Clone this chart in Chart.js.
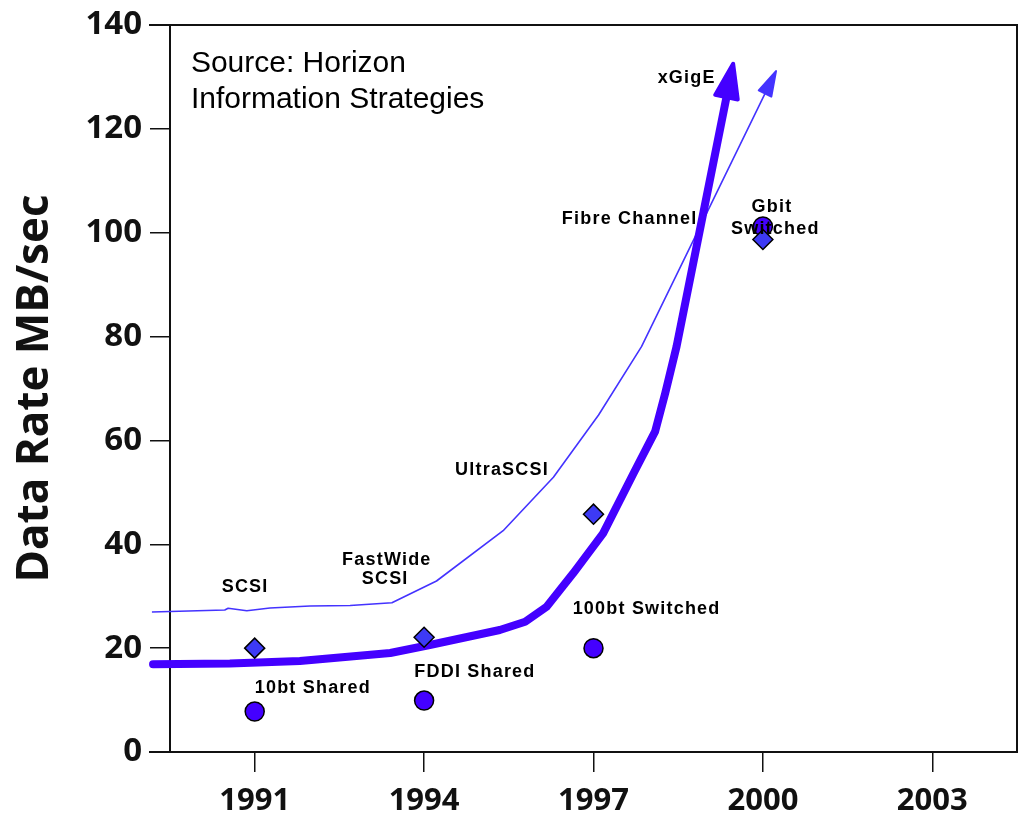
<!DOCTYPE html>
<html>
<head>
<meta charset="utf-8">
<script src="https://cdn.jsdelivr.net/npm/chart.js@4/dist/chart.umd.min.js"></script>
<style>
  html, body { margin: 0; padding: 0; background: #fff; overflow: hidden; }
  #wrap { width: 1019px; height: 814px; position: relative; }
  #wrap canvas { display: block; }
</style>
</head>
<body>
<div id="wrap"><canvas id="c"></canvas></div>
<script>
// Axis ticks
const yearTicks = [1991, 1994, 1997, 2000, 2003];
const rateTicks = [0, 20, 40, 60, 80, 100, 120, 140];

// Storage interface trend (thin arrow)
const storageYears = [1989.18, 1990.47, 1990.53, 1990.86, 1991.27, 1991.98, 1992.69, 1993.43, 1994.22, 1995.40, 1996.29, 1997.09, 1997.85, 2000.24];
const storageRates = [26.96, 27.34, 27.67, 27.21, 27.73, 28.11, 28.2, 28.75, 32.93, 42.61, 52.90, 64.89, 78.05, 131.3];

// Network trend (thick arrow)
const networkYears = [1989.20, 1990.56, 1991.80, 1993.40, 1994.10, 1995.34, 1995.79, 1996.17, 1996.64, 1997.17, 1997.71, 1998.09, 1998.27, 1998.47, 1999.48];
const networkRates = [16.89, 17.04, 17.52, 19.06, 20.60, 23.49, 25.09, 27.98, 34.41, 42.11, 53.67, 61.68, 69.07, 78.05, 132.9];

// Milestones
const milestoneYears = [1991, 1994, 1997, 2000];
const storageMilestones = [20.0, 22.1, 45.8, 98.7];   // SCSI, FastWide SCSI, UltraSCSI, Fibre Channel
const networkMilestones = [7.8, 9.9, 20.0, 101.2];    // 10bt, FDDI, 100bt, Gbit

// Text notes, anchored in data units
const notes = [
  { text: 'SCSI', x: 1990.83, y: 30.9 },
  { text: 'FastWide', x: 1993.34, y: 36.0 },
  { text: 'SCSI', x: 1993.31, y: 32.35 },
  { text: '10bt Shared', x: 1992.03, y: 11.3 },
  { text: 'FDDI Shared', x: 1994.90, y: 14.5 },
  { text: '100bt Switched', x: 1997.94, y: 26.57 },
  { text: 'UltraSCSI', x: 1995.38, y: 53.34 },
  { text: 'Fibre Channel', x: 1997.64, y: 101.6 },
  { text: 'Gbit', x: 2000.16, y: 104.0 },
  { text: 'Switched', x: 2000.22, y: 99.75 },
  { text: 'xGigE', x: 1998.65, y: 128.77 }
];
const sourceLines = ['Source: Horizon', 'Information Strategies'];
const sourceAnchor = { x: 1989.87, y: 131.0 };

const pts = (xs, ys) => xs.map((x, i) => ({ x: x, y: ys[i] }));

// Plot frame: top/bottom rules run out past the value axis to the tick ends
const framePlugin = {
  id: 'frame',
  beforeDatasetsDraw(chart) {
    const { ctx, chartArea: a } = chart;
    const ext = chart.options.scales.y.grid.tickLength;
    ctx.save();
    ctx.strokeStyle = '#111';
    ctx.lineWidth = 2;
    ctx.lineCap = 'square';
    ctx.beginPath();
    ctx.moveTo(a.left - ext, a.top); ctx.lineTo(a.right, a.top);
    ctx.lineTo(a.right, a.bottom); ctx.lineTo(a.left - ext, a.bottom);
    ctx.moveTo(a.left, a.top); ctx.lineTo(a.left, a.bottom);
    ctx.stroke();
    ctx.restore();
  }
};

// Arrowheads at the end of trend lines
const arrowPlugin = {
  id: 'arrows',
  beforeDatasetDraw(chart, args) {
    const ds = chart.data.datasets[args.index];
    if (!ds.arrow) return;
    const p = args.meta.data;
    const tip = p[p.length - 1];
    const ctx = chart.ctx;
    ctx.save();
    ctx.beginPath();
    ctx.rect(0, 0, chart.width, chart.height);
    ctx.arc(tip.x, tip.y, ds.arrow.cut, 0, Math.PI * 2);
    ctx.clip('evenodd');
  },
  afterDatasetDraw(chart, args) {
    const ds = chart.data.datasets[args.index];
    if (!ds.arrow) return;
    const ctx = chart.ctx;
    ctx.restore();
    const p = args.meta.data;
    const tip = p[p.length - 1], prev = p[p.length - 2];
    const dx = tip.x - prev.x, dy = tip.y - prev.y;
    const d = Math.hypot(dx, dy);
    const ux = dx / d, uy = dy / d;
    const e = ds.arrow.edge / 2;
    const tx = tip.x - ux * e, ty = tip.y - uy * e;
    const bx = tip.x - ux * ds.arrow.len, by = tip.y - uy * ds.arrow.len;
    const h = ds.arrow.half;
    ctx.save();
    ctx.beginPath();
    ctx.moveTo(tx, ty);
    ctx.lineTo(bx - uy * h, by + ux * h);
    ctx.lineTo(bx + uy * h, by - ux * h);
    ctx.closePath();
    ctx.fillStyle = ds.borderColor;
    ctx.strokeStyle = ds.borderColor;
    ctx.lineJoin = 'round';
    ctx.lineWidth = ds.arrow.edge;
    ctx.fill();
    ctx.stroke();
    ctx.restore();
  }
};

// Text notes
const notesPlugin = {
  id: 'notes',
  afterDatasetsDraw(chart) {
    const { ctx, scales: { x, y } } = chart;
    ctx.save();
    ctx.fillStyle = '#000';
    ctx.textBaseline = 'alphabetic';
    ctx.font = 'bold 18px "Liberation Sans", Arial, sans-serif';
    if ('letterSpacing' in ctx) ctx.letterSpacing = '1.2px';
    ctx.textAlign = 'center';
    notes.forEach(n => ctx.fillText(n.text, x.getPixelForValue(n.x), y.getPixelForValue(n.y)));
    if ('letterSpacing' in ctx) ctx.letterSpacing = '0px';
    ctx.font = '30px "Liberation Sans", Arial, sans-serif';
    ctx.textAlign = 'left';
    const sx = x.getPixelForValue(sourceAnchor.x);
    const sy = y.getPixelForValue(sourceAnchor.y);
    sourceLines.forEach((t, i) => ctx.fillText(t, sx, sy + i * 36));
    ctx.restore();
  }
};

const tickFont = { family: '"Open Sans", "Noto Sans", sans-serif', weight: 'bold' };

new Chart(document.getElementById('c'), {
  type: 'line',
  data: {
    datasets: [
      {
        data: pts(milestoneYears, storageMilestones),
        showLine: false,
        pointStyle: 'rectRot',
        pointRadius: 10,
        pointBackgroundColor: '#3d3af5',
        pointBorderColor: '#000',
        pointBorderWidth: 1.5,
        order: 0
      },
      {
        data: pts(milestoneYears, networkMilestones),
        showLine: false,
        pointStyle: 'circle',
        pointRadius: 9.5,
        pointBackgroundColor: '#4400ff',
        pointBorderColor: '#000',
        pointBorderWidth: 1.5,
        order: 1
      },
      {
        data: pts(storageYears, storageRates),
        borderColor: '#4433ff',
        borderWidth: 1.6,
        pointRadius: 0,
        tension: 0,
        borderJoinStyle: 'round',
        clip: false,
        arrow: { len: 26, half: 7, edge: 2, cut: 9 },
        order: 3
      },
      {
        data: pts(networkYears, networkRates),
        borderColor: '#4400ff',
        borderWidth: 8,
        pointRadius: 0,
        tension: 0,
        borderJoinStyle: 'round',
        borderCapStyle: 'round',
        clip: false,
        arrow: { len: 36, half: 11.5, edge: 4, cut: 14 },
        order: 2
      }
    ]
  },
  options: {
    responsive: true,
    maintainAspectRatio: false,
    animation: false,
    events: [],
    layout: { autoPadding: false, padding: { top: 25, right: 2, left: 0, bottom: 0 } },
    plugins: { legend: { display: false }, tooltip: { enabled: false } },
    scales: {
      x: {
        type: 'linear',
        min: 1989.5,
        max: 2004.5,
        afterBuildTicks: s => { s.ticks = yearTicks.map(v => ({ value: v })); },
        afterFit: s => { s.height = 62; s.paddingLeft = 0; s.paddingRight = 0; },
        border: { display: false },
        grid: { drawOnChartArea: false, drawTicks: true, tickLength: 20, color: '#111', lineWidth: 1.5 },
        ticks: { font: Object.assign({ size: 31 }, tickFont), color: '#111', padding: 11, maxRotation: 0, callback: v => String(v) }
      },
      y: {
        type: 'linear',
        min: 0,
        max: 140,
        afterBuildTicks: s => { s.ticks = rateTicks.map(v => ({ value: v })); },
        afterFit: s => { s.width = 170; s.paddingTop = 0; s.paddingBottom = 0; },
        border: { display: false },
        grid: { drawOnChartArea: false, drawTicks: true, tickLength: 20, color: '#111', lineWidth: 1.5 },
        ticks: { font: Object.assign({ size: 33 }, tickFont), color: '#111', padding: 8 },
        title: {
          display: true,
          text: 'Data Rate MB/sec',
          color: '#111',
          font: Object.assign({ size: 44 }, tickFont),
          padding: { top: 9, bottom: 0 }
        }
      }
    }
  },
  plugins: [framePlugin, arrowPlugin, notesPlugin]
});
</script>
</body>
</html>
